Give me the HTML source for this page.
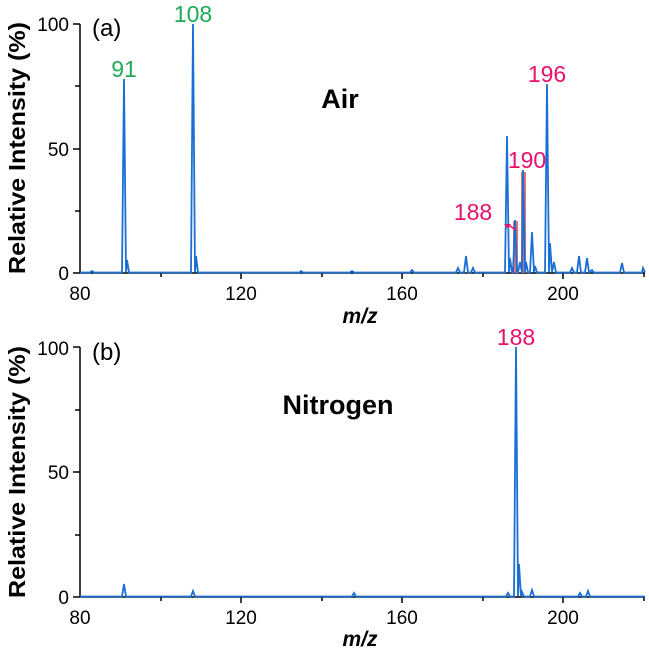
<!DOCTYPE html>
<html><head><meta charset="utf-8"><style>
body{margin:0;background:#fff}
svg{display:block}
text{font-family:"Liberation Sans",sans-serif}
</style></head><body>
<svg width="649" height="649" viewBox="0 0 649 649" xmlns="http://www.w3.org/2000/svg">
<!-- Top panel -->
<g stroke="#000" stroke-width="1.5" fill="none">
<line x1="80" y1="24" x2="80" y2="273"/>
<line x1="80" y1="273" x2="645" y2="273"/>
<line x1="73" y1="24" x2="80" y2="24"/><line x1="75" y1="86" x2="80" y2="86"/>
<line x1="73" y1="149" x2="80" y2="149"/><line x1="75" y1="211" x2="80" y2="211"/>
<line x1="73" y1="273" x2="80" y2="273"/>
<line x1="161" y1="273" x2="161" y2="277"/><line x1="241" y1="273" x2="241" y2="279"/>
<line x1="322" y1="273" x2="322" y2="277"/><line x1="402" y1="273" x2="402" y2="279"/>
<line x1="483" y1="273" x2="483" y2="277"/><line x1="563" y1="273" x2="563" y2="279"/>
<line x1="644" y1="273" x2="644" y2="277"/>
</g>
<rect x="513" y="221" width="5" height="52" fill="#e05a5a" opacity="0.85"/>
<rect x="521" y="172" width="5" height="101" fill="#e05a5a" opacity="0.85"/>
<path fill="none" stroke="#1a6fd6" stroke-width="1.8" d="M80,272.5 L90,272.5 L92,271 L94,272.5
L122,272.5 L124,79 L126,272.5 L127,260 L129,272.5
L191,272.5 L193,24 L195,272.5 L196,256 L198,272.5
L300,272.5 L301,271 L303,272.5 L350,272.5 L352,271 L354,272.5 L410,272.5 L412,270 L414,272.5
L456,272.5 L458,268 L460,272.5 L464,272.5 L466,256 L468,272.5 L471,272.5 L473,268 L475,272.5
L505,272.5 L507,136 L509,272.5 L510,258 L512,272.5 L513,272.5 L515,220 L517,272.5 L518,272.5 L520,262 L522,272.5 L523,170 L525,272.5 L526,262 L528,272.5 L530,272.5 L532,232 L534,272.5 L535,266 L537,272.5
L545,272.5 L547,84 L549,272.5 L550,243 L552,272.5 L554,262 L556,272.5
L570,272.5 L572,268 L574,272.5 L577,272.5 L579,256 L581,272.5 L585,272.5 L587,258 L589,272.5 L592,270 L594,272.5
L620,272.5 L622,263 L624,272.5 L642,272.5 L643,268 L645,272.5"/>
<path d="M516,230 L510,226" stroke="#e8106e" stroke-width="1.5"/>
<path d="M504,224 L511,224 L508,229 Z" fill="#e8106e"/>
<text x="69" y="31" font-size="19" text-anchor="end">100</text>
<text x="69" y="156" font-size="19" text-anchor="end">50</text>
<text x="69" y="280" font-size="19" text-anchor="end">0</text>
<text x="80" y="300" font-size="19" text-anchor="middle">80</text>
<text x="241" y="300" font-size="19" text-anchor="middle">120</text>
<text x="402" y="300" font-size="19" text-anchor="middle">160</text>
<text x="563" y="300" font-size="19" text-anchor="middle">200</text>
<text x="360" y="323" font-size="21" font-weight="bold" font-style="italic" text-anchor="middle">m/z</text>
<text x="92" y="36" font-size="24">(a)</text>
<text x="124" y="77" font-size="23" fill="#1faa55" text-anchor="middle">91</text>
<text x="193" y="22" font-size="23" fill="#1faa55" text-anchor="middle">108</text>
<text x="547" y="82" font-size="23" fill="#e8106e" text-anchor="middle">196</text>
<text x="527" y="168" font-size="23" fill="#e8106e" text-anchor="middle">190</text>
<text x="473" y="220" font-size="23" fill="#e8106e" text-anchor="middle">188</text>
<text x="340" y="108" font-size="27" font-weight="bold" text-anchor="middle">Air</text>
<text transform="translate(25,148) rotate(-90)" font-size="23" font-weight="bold" text-anchor="middle" textLength="252" lengthAdjust="spacingAndGlyphs">Relative Intensity (%)</text>

<!-- Bottom panel -->
<g stroke="#000" stroke-width="1.5" fill="none">
<line x1="80" y1="347" x2="80" y2="597"/>
<line x1="80" y1="597" x2="645" y2="597"/>
<line x1="73" y1="347" x2="80" y2="347"/><line x1="75" y1="410" x2="80" y2="410"/>
<line x1="73" y1="472" x2="80" y2="472"/><line x1="75" y1="535" x2="80" y2="535"/>
<line x1="73" y1="597" x2="80" y2="597"/>
<line x1="161" y1="597" x2="161" y2="601"/><line x1="241" y1="597" x2="241" y2="603"/>
<line x1="322" y1="597" x2="322" y2="601"/><line x1="402" y1="597" x2="402" y2="603"/>
<line x1="483" y1="597" x2="483" y2="601"/><line x1="563" y1="597" x2="563" y2="603"/>
<line x1="644" y1="597" x2="644" y2="601"/>
</g>
<path fill="none" stroke="#1a6fd6" stroke-width="1.8" d="M80,596.5 L122,596.5 L124,584 L126,596.5
L191,596.5 L193,591 L195,596.5 L352,596.5 L354,593 L356,596.5
L506,596.5 L508,593 L510,596.5 L514,596.5 L516,347 L518,596.5 L519,564 L521,596.5 L522,592 L524,596.5
L530,596.5 L532,590 L534,596.5 L578,596.5 L580,593 L582,596.5 L586,596.5 L588,591 L590,596.5 L645,596.5"/>
<text x="69" y="355" font-size="19" text-anchor="end">100</text>
<text x="69" y="479" font-size="19" text-anchor="end">50</text>
<text x="69" y="604" font-size="19" text-anchor="end">0</text>
<text x="80" y="624" font-size="19" text-anchor="middle">80</text>
<text x="241" y="624" font-size="19" text-anchor="middle">120</text>
<text x="402" y="624" font-size="19" text-anchor="middle">160</text>
<text x="563" y="624" font-size="19" text-anchor="middle">200</text>
<text x="360" y="646" font-size="21" font-weight="bold" font-style="italic" text-anchor="middle">m/z</text>
<text x="92" y="360" font-size="24">(b)</text>
<text x="516" y="345" font-size="23" fill="#e8106e" text-anchor="middle">188</text>
<text x="338" y="414" font-size="27" font-weight="bold" text-anchor="middle">Nitrogen</text>
<text transform="translate(25,472) rotate(-90)" font-size="23" font-weight="bold" text-anchor="middle" textLength="252" lengthAdjust="spacingAndGlyphs">Relative Intensity (%)</text>
</svg>
</body></html>
